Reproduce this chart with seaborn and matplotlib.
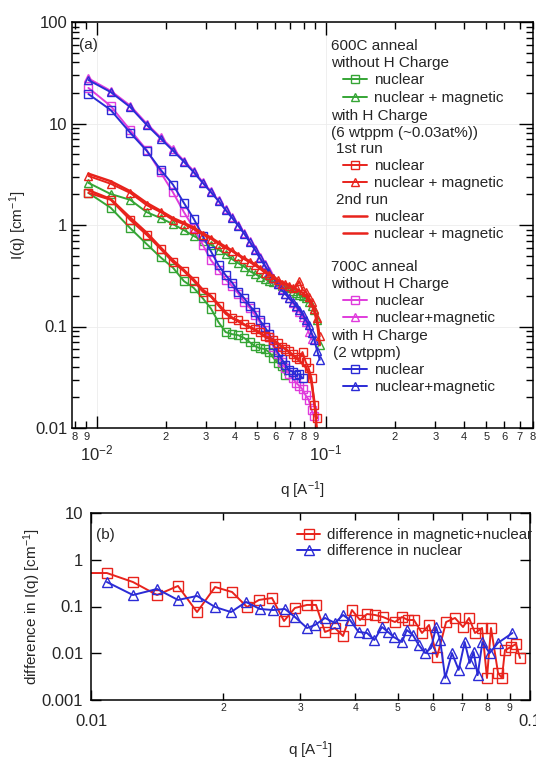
import numpy as np
import matplotlib
matplotlib.use('Agg')
import matplotlib.pyplot as plt
from matplotlib.ticker import FixedLocator, FixedFormatter, LogLocator, FuncFormatter, NullLocator
from matplotlib.legend import Legend
import seaborn as sns

nan = np.nan

# ---- panel (a): I(q), shared q grid ----
q_a = [0.0092, 0.0115, 0.0140, 0.0165, 0.0190, 0.0215, 0.0240, 0.0265, 0.0290, 0.0315,
       0.0340, 0.0365, 0.0390, 0.0415, 0.0440, 0.0465, 0.0490, 0.0515, 0.0540, 0.0565,
       0.0590, 0.0615, 0.0640, 0.0665, 0.0690, 0.0715, 0.0740, 0.0765, 0.0790, 0.0815,
       0.0840, 0.0865, 0.0890, 0.0915, 0.0940]

# 600C anneal, without H charge
green_sq = [2.07, 1.48, 0.93, 0.65, 0.48, 0.38, 0.28, 0.24, 0.19, 0.15,
            0.11, 0.088, 0.084, 0.082, 0.077, 0.070, 0.064, 0.061, 0.060, 0.056,
            0.049, 0.044, 0.041, 0.033, nan, nan, nan, nan, nan, nan,
            nan, nan, nan, nan, nan]
green_tri = [2.6, 2.02, 1.77, 1.34, 1.17, 1.02, 0.89, 0.78, 0.70, 0.64,
             0.57, 0.52, 0.46, 0.42, 0.39, 0.35, 0.33, 0.31, 0.295, 0.28,
             0.275, 0.26, 0.25, 0.245, 0.24, 0.225, 0.215, 0.205, 0.20, 0.19,
             0.175, 0.16, 0.146, 0.115, 0.065]
# 600C anneal, with H charge, 1st run
red_sq = [2.07, 1.77, 1.12, 0.80, 0.58, 0.43, 0.35, 0.28, 0.22, 0.196,
          0.16, 0.133, 0.12, 0.115, 0.105, 0.10, 0.094, 0.088, 0.081, 0.078,
          0.074, 0.069, 0.063, 0.060, 0.057, 0.053, 0.050, 0.048, 0.056, 0.045,
          0.039, 0.031, 0.017, 0.0125, nan]
red_tri = [3.04, 2.55, 2.07, 1.57, 1.34, 1.12, 1.02, 0.91, 0.80, 0.73,
           0.65, 0.59, 0.55, 0.50, 0.46, 0.43, 0.40, 0.37, 0.34, 0.325,
           0.30, 0.285, 0.265, 0.26, 0.25, 0.24, 0.245, 0.28, 0.23, 0.22,
           0.195, 0.175, 0.15, 0.12, 0.08]
# 600C anneal, with H charge, 2nd run
red2_nuc = [2.2, 1.8, 1.18, 0.84, 0.60, 0.45, 0.36, 0.29, 0.23, 0.20,
            0.165, 0.138, 0.122, 0.112, 0.104, 0.098, 0.092, 0.086, 0.080, 0.076,
            0.072, 0.068, 0.064, 0.060, 0.056, 0.052, 0.049, 0.046, 0.043, 0.040,
            0.035, 0.028, 0.018, 0.009, nan]
red2_nm = [3.2, 2.7, 2.15, 1.65, 1.38, 1.17, 1.05, 0.94, 0.83, 0.75,
           0.67, 0.61, 0.56, 0.51, 0.47, 0.44, 0.41, 0.38, 0.35, 0.33,
           0.31, 0.29, 0.275, 0.265, 0.255, 0.245, 0.235, 0.225, 0.215, 0.20,
           0.185, 0.165, 0.14, 0.11, 0.066]
# 700C anneal, without H charge
mag_sq = [22.4, 14.9, 8.6, 5.5, 3.3, 2.1, 1.34, 0.93, 0.64, 0.45,
          0.36, 0.29, 0.25, 0.21, 0.175, 0.153, 0.13, 0.11, 0.093, 0.078,
          0.063, 0.053, 0.045, 0.039, 0.034, 0.031, 0.028, 0.026, 0.024, 0.021,
          0.019, 0.015, 0.013, nan, nan]
mag_tri = [27.8, 21.0, 15.0, 10.0, 7.3, 5.6, 4.3, 3.4, 2.65, 2.15,
           1.75, 1.43, 1.19, 1.0, 0.83, 0.69, 0.58, 0.48, 0.41, 0.35,
           0.30, 0.27, 0.235, 0.21, 0.19, 0.17, 0.155, 0.14, 0.125, 0.11,
           0.088, 0.075, nan, nan, nan]
# 700C anneal, with H charge (2 wtppm)
blue_sq = [19.5, 13.6, 8.1, 5.4, 3.5, 2.5, 1.65, 1.15, 0.78, 0.55,
           0.40, 0.32, 0.27, 0.22, 0.19, 0.16, 0.14, 0.115, 0.099, 0.085,
           0.066, 0.056, 0.048, 0.042, 0.037, 0.036, 0.033, 0.034, 0.031, nan,
           nan, nan, nan, nan, nan]
blue_tri = [26.8, 20.4, 14.5, 9.7, 7.1, 5.4, 4.2, 3.3, 2.6, 2.1,
            1.72, 1.40, 1.17, 0.98, 0.82, 0.68, 0.57, 0.47, 0.40, 0.34,
            0.30, 0.265, 0.23, 0.21, 0.19, 0.176, 0.16, 0.146, 0.133, 0.117,
            0.104, 0.086, 0.073, 0.058, 0.047]

# ---- panel (b): differences ----
qb_red = [0.0095, 0.01087, 0.01246, 0.01414, 0.01578, 0.01744, 0.01917, 0.02096, 0.02267, 0.02413,
          0.02584, 0.02752, 0.02914, 0.03105, 0.03255, 0.03412, 0.03595, 0.0375, 0.0393, 0.0410,
          0.04254, 0.04436, 0.04624, 0.04925, 0.05109, 0.05272, 0.0544, 0.05675, 0.05888, 0.0614,
          0.0644, 0.06748, 0.07039, 0.07263, 0.07495, 0.07776, 0.0798, 0.0815, 0.08457, 0.0863,
          0.0877, 0.0905, 0.0929, 0.0949]
diff_mag_nuc = [0.52, 0.52, 0.334, 0.176, 0.275, 0.076, 0.261, 0.204, 0.0975, 0.138,
                0.152, 0.049, 0.093, 0.108, 0.108, 0.0285, 0.0347, 0.0234, 0.084, 0.0514,
                0.069, 0.0658, 0.0596, 0.0466, 0.0596, 0.0514, 0.0514, 0.0271, 0.0402, 0.0083,
                0.0466, 0.0568, 0.0364, 0.0568, 0.0271, 0.0347, 0.00296, 0.0347, 0.00378, 0.00296,
                0.0117, 0.0136, 0.0158, 0.0079]
qb_blue = [0.01087, 0.01246, 0.01414, 0.01578, 0.01744, 0.01917, 0.02084, 0.02255, 0.02425, 0.02596,
           0.02765, 0.02914, 0.03105, 0.03235, 0.03412, 0.03595, 0.0375, 0.0389, 0.0407, 0.04254,
           0.0442, 0.0460, 0.0475, 0.0489, 0.0511, 0.0524, 0.0541, 0.0558, 0.0577, 0.0595,
           0.0611, 0.0624, 0.0641, 0.0664, 0.0688, 0.0710, 0.0729, 0.0744, 0.0760, 0.0779,
           0.0809, 0.0845, 0.0912]
diff_nuc = [0.334, 0.176, 0.237, 0.138, 0.168, 0.0975, 0.076, 0.125, 0.0885, 0.084,
            0.0885, 0.0596, 0.0347, 0.040, 0.0568, 0.0444, 0.0658, 0.0514, 0.0285, 0.0271,
            0.0192, 0.0364, 0.0285, 0.0223, 0.0174, 0.0314, 0.0245, 0.015, 0.0101, 0.0129,
            0.0364, 0.0192, 0.00296, 0.0101, 0.0044, 0.0174, 0.0062, 0.0106, 0.0034, 0.0174,
            0.0101, 0.0166, 0.0271]

GREEN = '#35a535'
RED = '#e8231c'
MAGENTA = '#e03cdc'
BLUE = '#2b2bd6'

sns.set_theme(style='ticks')
plt.rcParams['font.family'] = ['Liberation Sans', 'DejaVu Sans']
plt.rcParams['mathtext.fontset'] = 'custom'
plt.rcParams['mathtext.rm'] = 'Liberation Sans'
plt.rcParams['mathtext.it'] = 'Liberation Sans:italic'
plt.rcParams['axes.edgecolor'] = 'black'
plt.rcParams['axes.linewidth'] = 1.1

W, H = 536, 760
fig = plt.figure(figsize=(W / 100, H / 100), dpi=100)
ax1 = fig.add_axes([72 / W, 1 - 428 / H, 461 / W, 406 / H])
ax2 = fig.add_axes([91 / W, 1 - 700 / H, 439 / W, 187 / H])


def draw(ax, x, y, color, marker, label, ms=6, lw=1.4):
    sns.lineplot(x=x, y=y, ax=ax, color=color, marker=marker, markersize=ms,
                 markerfacecolor='none', markeredgecolor=color, markeredgewidth=1.0,
                 linewidth=lw, legend=False, errorbar=None, label=label)
    return ax.lines[-1]


def digit_fmt(v, pos):
    return str(int(round(v / 10 ** np.floor(np.log10(v) + 1e-9))))


# ---------------- panel (a) ----------------
ax1.set_xscale('log')
ax1.set_yscale('log')
h_gsq = draw(ax1, q_a, green_sq, GREEN, 's', 'nuclear')
h_gtr = draw(ax1, q_a, green_tri, GREEN, '^', 'nuclear + magnetic')
h_msq = draw(ax1, q_a, mag_sq, MAGENTA, 's', 'nuclear')
h_mtr = draw(ax1, q_a, mag_tri, MAGENTA, '^', 'nuclear+magnetic')
h_bsq = draw(ax1, q_a, blue_sq, BLUE, 's', 'nuclear')
h_btr = draw(ax1, q_a, blue_tri, BLUE, '^', 'nuclear+magnetic')
h_rsq = draw(ax1, q_a, red_sq, RED, 's', 'nuclear')
h_rtr = draw(ax1, q_a, red_tri, RED, '^', 'nuclear + magnetic')
h_r2n = draw(ax1, q_a, red2_nuc, RED, None, 'nuclear', lw=1.8)
h_r2m = draw(ax1, q_a, red2_nm, RED, None, 'nuclear + magnetic', lw=1.8)

ax1.set_xlim(0.0078, 0.8)
ax1.set_ylim(0.01, 100)
ax1.xaxis.set_major_locator(FixedLocator([0.01, 0.1]))
ax1.xaxis.set_major_formatter(FixedFormatter(['$10^{-2}$', '$10^{-1}$']))
ax1.xaxis.set_minor_locator(LogLocator(base=10, subs=np.arange(2, 10) * 1.0, numticks=30))
ax1.xaxis.set_minor_formatter(FuncFormatter(digit_fmt))
ax1.yaxis.set_major_locator(FixedLocator([0.01, 0.1, 1, 10, 100]))
ax1.yaxis.set_major_formatter(FixedFormatter(['0.01', '0.1', '1', '10', '100']))
ax1.yaxis.set_minor_locator(LogLocator(base=10, subs=np.arange(2, 10) * 1.0, numticks=30))
ax1.yaxis.set_minor_formatter(FuncFormatter(lambda v, p: ''))
ax1.tick_params(which='both', direction='in', top=True, right=True, color='black', width=1.0)
ax1.tick_params(axis='y', which='major', length=10, labelsize=12, pad=3.5)
ax1.tick_params(axis='y', which='minor', length=5)
ax1.tick_params(axis='x', which='major', length=9, labelsize=12, pad=11)
ax1.tick_params(axis='x', which='minor', length=5, labelsize=8, pad=3)
ax1.grid(True, which='major', color='#ececec', linewidth=0.6)
ax1.set_axisbelow(True)

ax1.set_ylabel('I(q) [cm$^{-1}$]', fontsize=11)
ax1.yaxis.set_label_coords((29 - 72) / 461, 0.5)
ax1.set_xlabel('q [A$^{-1}$]', fontsize=11)
ax1.xaxis.set_label_coords(0.5, (428 - 479) / 406)
ax1.text((88 - 72) / 461, (428 - 45) / 406, '(a)', transform=ax1.transAxes,
         fontsize=11, va='center', ha='center')


def ax_xy(px, py):
    return (px - 72) / 461, (428 - py) / 406


fs_leg = 11
headers = [(331, 46, '600C anneal'), (331, 63, 'without H Charge'),
           (331, 116, 'with H Charge'), (331, 133, '(6 wtppm (~0.03at%))'),
           (336, 149, '1st run'), (336, 200, '2nd run'),
           (331, 267, '700C anneal'), (331, 284, 'without H Charge'),
           (331, 336, 'with H Charge'), (333, 353, '(2 wtppm)')]
for px, py, s in headers:
    xx, yy = ax_xy(px, py)
    ax1.text(xx, yy, s, transform=ax1.transAxes, fontsize=fs_leg, va='center', ha='left')

entries = [(h_gsq, 80), (h_gtr, 98), (h_rsq, 166), (h_rtr, 183),
           (h_r2n, 217), (h_r2m, 234), (h_msq, 301), (h_mtr, 318),
           (h_bsq, 370), (h_btr, 387)]
for h, py in entries:
    xx, yy = ax_xy(343, py)
    leg = Legend(ax1, [h], [h.get_label()], loc='center left', bbox_to_anchor=(xx, yy),
                 bbox_transform=ax1.transAxes, frameon=False, borderpad=0, borderaxespad=0,
                 handlelength=1.6, handletextpad=0.4, fontsize=fs_leg)
    ax1.add_artist(leg)

# ---------------- panel (b) ----------------
ax2.set_xscale('log')
ax2.set_yscale('log')
h_dmn = draw(ax2, qb_red, diff_mag_nuc, RED, 's', 'difference in magnetic+nuclear', ms=7)
h_dn = draw(ax2, qb_blue, diff_nuc, BLUE, '^', 'difference in nuclear', ms=7)
ax2.set_xlim(0.01, 0.1)
ax2.set_ylim(0.001, 10)
ax2.xaxis.set_major_locator(FixedLocator([0.01, 0.1]))
ax2.xaxis.set_major_formatter(FixedFormatter(['0.01', '0.1']))
ax2.xaxis.set_minor_locator(LogLocator(base=10, subs=np.arange(2, 10) * 1.0, numticks=30))
ax2.xaxis.set_minor_formatter(FuncFormatter(digit_fmt))
ax2.yaxis.set_major_locator(FixedLocator([0.001, 0.01, 0.1, 1, 10]))
ax2.yaxis.set_major_formatter(FixedFormatter(['0.001', '0.01', '0.1', '1', '10']))
ax2.yaxis.set_minor_locator(NullLocator())
ax2.tick_params(which='both', direction='in', top=True, right=True, color='black', width=1.0)
ax2.tick_params(axis='y', which='major', length=7, labelsize=12, pad=5.5)
ax2.tick_params(axis='x', which='major', length=7, labelsize=12, pad=10)
ax2.tick_params(axis='x', which='minor', length=5, labelsize=7.5, pad=2.5)

ax2.set_ylabel('difference in I(q) [cm$^{-1}$]', fontsize=11)
ax2.yaxis.set_label_coords((43 - 91) / 439, 0.5)
ax2.set_xlabel('q [A$^{-1}$]', fontsize=11)
ax2.xaxis.set_label_coords(0.5, (700 - 739) / 187)
ax2.text((105 - 91) / 439, (700 - 535) / 187, '(b)', transform=ax2.transAxes,
         fontsize=11, va='center', ha='center')

for h, py in [(h_dmn, 535), (h_dn, 551)]:
    leg = Legend(ax2, [h], [h.get_label()], loc='center left',
                 bbox_to_anchor=((297 - 91) / 439, (700 - py) / 187),
                 bbox_transform=ax2.transAxes, frameon=False, borderpad=0, borderaxespad=0,
                 handlelength=1.55, handletextpad=0.45, fontsize=10.8)
    ax2.add_artist(leg)

fig.savefig('out.png', dpi=100)
